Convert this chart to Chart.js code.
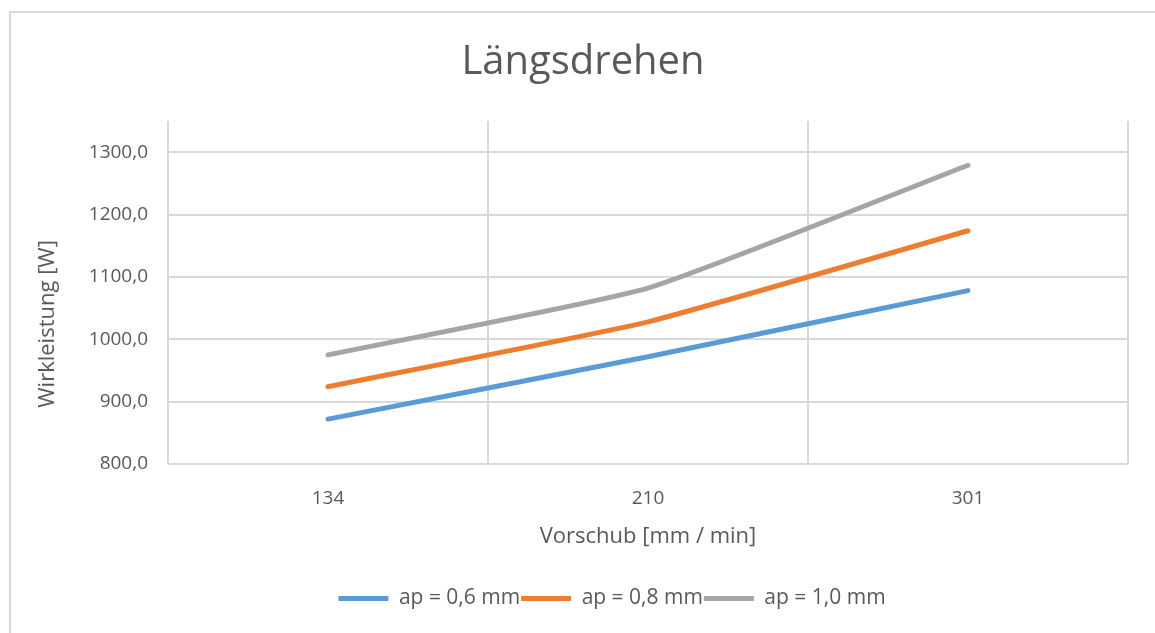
<!DOCTYPE html>
<html>
<head>
<meta charset="utf-8">
<script src="https://cdn.jsdelivr.net/npm/chart.js@4/dist/chart.umd.min.js"></script>
<style>
  html, body { margin: 0; padding: 0; background: #fff; overflow: hidden; }
  .frame { position: absolute; left: 9px; top: 11px; width: 1160px; height: 640px; border: 2px solid #d9d9d9; box-sizing: border-box; }
  .wrap { position: absolute; left: 0; top: 0; width: 1155px; height: 633px; }
</style>
</head>
<body>
<div class="frame"></div>
<div class="wrap"><canvas id="chart"></canvas></div>
<script>
const categories = ['134', '210', '301'];
const ap06 = [872, 972, 1078];
const ap08 = [924, 1028, 1174];
const ap10 = [975, 1082, 1279];

const textColor = '#595959';
const gridColor = '#d9d9d9';
const fontFamily = '"Open Sans", sans-serif';

function line(label, data, color) {
  return {
    label: label,
    data: data,
    borderColor: color,
    backgroundColor: color,
    borderWidth: 5,
    borderCapStyle: 'round',
    borderJoinStyle: 'round',
    pointRadius: 0,
    pointHoverRadius: 0,
    tension: 0.15
  };
}

// the legend in the original sits a bit right of centre
const legendShift = {
  id: 'legendShift',
  afterLayout(chart) {
    chart.legend.left += 29;
    chart.legend.right += 29;
  }
};

new Chart(document.getElementById('chart'), {
  type: 'line',
  data: {
    labels: categories,
    datasets: [
      line('ap = 0,6 mm', ap06, '#5b9bd5'),
      line('ap = 0,8 mm', ap08, '#ed7d31'),
      line('ap = 1,0 mm', ap10, '#a5a5a5')
    ]
  },
  options: {
    responsive: true,
    maintainAspectRatio: false,
    animation: false,
    layout: { padding: { left: 38, right: 27, top: 0, bottom: 14 } },
    scales: {
      x: {
        offset: true,
        grid: { color: gridColor, lineWidth: 2, offset: true, drawTicks: false },
        border: { display: false },
        ticks: { color: textColor, font: { family: fontFamily, size: 19 }, padding: 23 },
        title: {
          display: true,
          text: 'Vorschub [mm / min]',
          color: textColor,
          font: { family: fontFamily, size: 22 },
          padding: { top: 0, bottom: 37 }
        },
        afterFit: scale => { scale.height = 123; }
      },
      y: {
        min: 800,
        max: 1350,
        grid: { color: gridColor, lineWidth: 2, drawTicks: false },
        border: { display: false },
        ticks: {
          stepSize: 100,
          color: textColor,
          font: { family: fontFamily, size: 19 },
          padding: 20,
          callback: v => (v % 100 === 0 ? v.toFixed(1).replace('.', ',') : null)
        },
        title: {
          display: true,
          // trailing spaces push the visible text down like in the original
          text: 'Wirkleistung [W]' + '\u00a0'.repeat(11),
          color: textColor,
          font: { family: fontFamily, size: 22 },
          padding: { top: -3, bottom: 0 }
        },
        afterFit: scale => { scale.width = 130; }
      }
    },
    plugins: {
      title: {
        display: true,
        text: 'Längsdrehen',
        color: textColor,
        font: { family: fontFamily, size: 40, weight: 'normal' },
        padding: { top: 39, bottom: 34 }
      },
      legend: {
        position: 'bottom',
        labels: {
          color: textColor,
          font: { family: fontFamily, size: 21 },
          usePointStyle: true,
          pointStyle: 'line',
          pointStyleWidth: 50,
          padding: 1
        }
      },
      tooltip: { enabled: false }
    }
  },
  plugins: [legendShift]
});
</script>
</body>
</html>
